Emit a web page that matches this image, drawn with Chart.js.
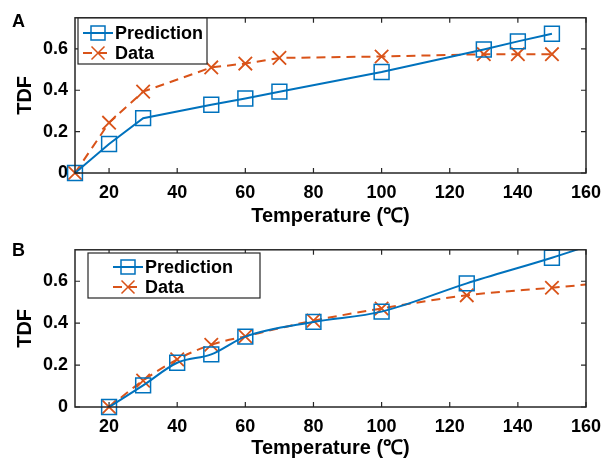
<!DOCTYPE html>
<html>
<head>
<meta charset="utf-8">
<script src="https://cdn.jsdelivr.net/npm/chart.js@4.4.1/dist/chart.umd.min.js"></script>
<style>
  html, body { margin: 0; padding: 0; background: #fff; }
  .panel { position: relative; width: 603px; height: 232px; }
</style>
</head>
<body>
<div class="panel"><canvas id="chartA"></canvas></div>
<div class="panel"><canvas id="chartB"></canvas></div>
<script>
// Panel A
const tempsA = [10, 20, 30, 50, 60, 70, 100, 130, 140, 150];
const predA  = [0, 0.14, 0.265, 0.33, 0.36, 0.393, 0.488, 0.597, 0.636, 0.673];
const dataA  = [0, 0.243, 0.393, 0.51, 0.529, 0.556, 0.563, 0.574, 0.574, 0.574];

// Panel B (last entry only continues the fitted line to the axis edge)
const tempsB = [20, 30, 40, 50, 60, 80, 100, 125, 150, 160];
const predB  = [0, 0.103, 0.211, 0.251, 0.336, 0.406, 0.455, 0.59, 0.712, 0.765];
const dataB  = [0, 0.126, 0.227, 0.297, 0.337, 0.412, 0.47, 0.533, 0.569, 0.584];
const markedB = [1, 1, 1, 1, 1, 1, 1, 1, 1, 0];

const xTicks = [20, 40, 60, 80, 100, 120, 140, 160];
const yTicks = [0, 0.2, 0.4, 0.6];
const seriesNames = ['Prediction', 'Data'];

const BLUE = '#0072BD';
const ORANGE = '#D95319';
const AXIS = '#262626';
const FONT = "'Liberation Sans', Arial, sans-serif";

function toPoints(xs, ys) {
    return xs.map((x, i) => ({ x: x, y: ys[i] }));
}

// MATLAB-like box with inward ticks, panel letter and boxed legend
const figPlugin = {
    id: 'figDecor',
    afterDraw(chart, args, opts) {
        const ctx = chart.ctx;
        const a = chart.chartArea;
        const xs = chart.scales.x, ys = chart.scales.y;
        ctx.save();
        ctx.strokeStyle = AXIS;
        ctx.lineWidth = 1.5;
        ctx.strokeRect(a.left, a.top, a.right - a.left, a.bottom - a.top);
        ctx.lineWidth = 1.2;
        ctx.beginPath();
        xTicks.forEach(v => {
            const px = xs.getPixelForValue(v);
            ctx.moveTo(px, a.bottom); ctx.lineTo(px, a.bottom - 5);
            ctx.moveTo(px, a.top); ctx.lineTo(px, a.top + 5);
        });
        yTicks.forEach(v => {
            const py = ys.getPixelForValue(v);
            ctx.moveTo(a.left, py); ctx.lineTo(a.left + 5, py);
            ctx.moveTo(a.right, py); ctx.lineTo(a.right - 5, py);
        });
        ctx.stroke();

        // panel letter
        ctx.fillStyle = '#000';
        ctx.font = 'bold 18px ' + FONT;
        ctx.textBaseline = 'middle';
        ctx.textAlign = 'left';
        ctx.fillText(opts.letter, 12, opts.letterY);

        // legend
        const lg = opts.legend;
        ctx.fillStyle = '#fff';
        ctx.fillRect(lg.x, lg.y, lg.w, lg.h);
        ctx.strokeStyle = AXIS;
        ctx.lineWidth = 1.2;
        ctx.strokeRect(lg.x, lg.y, lg.w, lg.h);
        chart.data.datasets.forEach((ds, i) => {
            const cy = lg.y + lg.rows[i];
            const x0 = lg.x + lg.lineStart, x1 = x0 + 30, mx = (x0 + x1) / 2;
            ctx.strokeStyle = ds.borderColor;
            ctx.lineWidth = 2;
            ctx.setLineDash(ds.borderDash || []);
            ctx.beginPath();
            ctx.moveTo(x0, cy); ctx.lineTo(x1, cy);
            ctx.stroke();
            ctx.setLineDash([]);
            ctx.lineWidth = 1.5;
            ctx.beginPath();
            if (ds.pointStyle === 'rect') {
                ctx.rect(mx - 7, cy - 7, 14, 14);
            } else {
                ctx.moveTo(mx - 6.5, cy - 6.5); ctx.lineTo(mx + 6.5, cy + 6.5);
                ctx.moveTo(mx - 6.5, cy + 6.5); ctx.lineTo(mx + 6.5, cy - 6.5);
            }
            ctx.stroke();
            ctx.fillStyle = '#000';
            ctx.font = 'bold 18px ' + FONT;
            ctx.fillText(ds.label, x1 + 2, cy + 1);
        });
        ctx.restore();
    }
};

function makeChart(id, xs, pred, data, marked, smooth, pad, decor) {
    const radius = marked ? marked.map(m => m ? 10.5 : 0) : 10.5;
    const crossRadius = marked ? marked.map(m => m ? 9.5 : 0) : 9.5;
    // markers may overhang the frame, the fitted line stops at the top edge
    const clip = { left: 12, right: 12, bottom: 12, top: pad.clipTop };
    return new Chart(document.getElementById(id), {
        type: 'line',
        data: {
            datasets: [{
                label: seriesNames[0],
                data: toPoints(xs, pred),
                borderColor: BLUE,
                borderWidth: 2,
                pointStyle: 'rect',
                pointRadius: radius,
                pointBorderColor: BLUE,
                pointBackgroundColor: 'rgba(0,0,0,0)',
                pointBorderWidth: 1.5,
                cubicInterpolationMode: smooth ? 'monotone' : 'default',
                clip: clip,
                fill: false
            }, {
                label: seriesNames[1],
                data: toPoints(xs, data),
                borderColor: ORANGE,
                borderWidth: 2,
                borderDash: [9, 6],
                pointStyle: 'crossRot',
                pointRadius: crossRadius,
                pointBorderColor: ORANGE,
                pointBorderWidth: 1.8,
                cubicInterpolationMode: smooth ? 'monotone' : 'default',
                clip: clip,
                fill: false
            }]
        },
        options: {
            responsive: false,
            animation: false,
            events: [],
            layout: { padding: { left: 0, right: 17, top: pad.top, bottom: pad.bottom } },
            plugins: {
                legend: { display: false },
                tooltip: { enabled: false },
                figDecor: decor
            },
            scales: {
                x: {
                    type: 'linear',
                    min: 10,
                    max: 160,
                    grid: { display: false, drawTicks: false },
                    border: { display: false },
                    afterBuildTicks: s => { s.ticks = xTicks.map(v => ({ value: v })); },
                    afterFit: s => {
                        s.height = pad.xHeight;
                        // let the end labels hang past the frame
                        s.paddingLeft = 0;
                        s.paddingRight = 0;
                    },
                    ticks: {
                        padding: 9,
                        color: '#000',
                        font: { family: FONT, size: 18, weight: 'bold' }
                    },
                    title: {
                        display: true,
                        text: 'Temperature (℃)',
                        color: '#000',
                        padding: { top: 0, bottom: 1 },
                        font: { family: FONT, size: 20, weight: 'bold' }
                    }
                },
                y: {
                    min: 0,
                    max: 0.75,
                    grid: { display: false, drawTicks: false },
                    border: { display: false },
                    afterBuildTicks: s => { s.ticks = yTicks.map(v => ({ value: v })); },
                    afterFit: s => { s.width = 75; },
                    ticks: {
                        padding: 7,
                        color: '#000',
                        font: { family: FONT, size: 18, weight: 'bold' },
                        callback: v => v === 0 ? '0' : v.toFixed(1)
                    },
                    title: {
                        display: true,
                        text: 'TDF',
                        color: '#000',
                        padding: { top: 13, bottom: 0 },
                        font: { family: FONT, size: 20, weight: 'bold' }
                    }
                }
            }
        },
        plugins: [figPlugin]
    });
}

function sizeCanvas(id) {
    const c = document.getElementById(id);
    c.width = 603; c.height = 232;
    c.style.width = '603px'; c.style.height = '232px';
}
sizeCanvas('chartA');
sizeCanvas('chartB');

makeChart('chartA', tempsA, predA, dataA, null, false,
    { top: 15, bottom: 3, xHeight: 56, clipTop: 12 },
    { letter: 'A', letterY: 22,
      legend: { x: 78, y: 18, w: 129, h: 46, lineStart: 5, rows: [15, 35] } });

makeChart('chartB', tempsB, predB, dataB, markedB, true,
    { top: 13, bottom: 3, xHeight: 54, clipTop: 0 },
    { letter: 'B', letterY: 19,
      legend: { x: 88, y: 21, w: 172, h: 45, lineStart: 25, rows: [14, 34] } });
</script>
</body>
</html>
